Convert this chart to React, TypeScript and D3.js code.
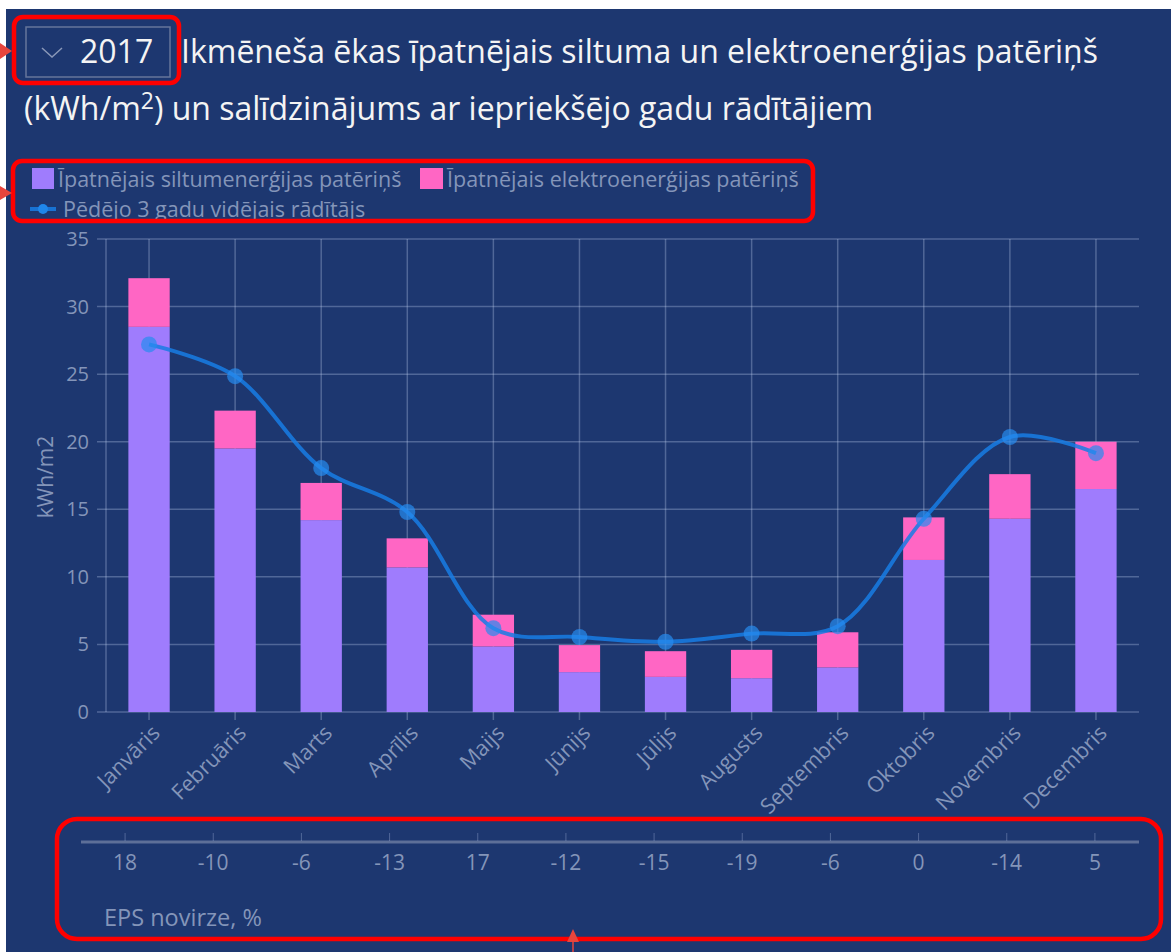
import { useRef, useEffect } from 'react';
import * as d3 from 'd3';

// chart values
const months = ['Janvāris', 'Februāris', 'Marts', 'Aprīlis', 'Maijs', 'Jūnijs', 'Jūlijs', 'Augusts', 'Septembris', 'Oktobris', 'Novembris', 'Decembris'];
const heatValues = [28.5, 19.5, 14.2, 10.7, 4.85, 2.95, 2.6, 2.5, 3.3, 11.25, 14.3, 16.5];
const electricityValues = [3.6, 2.8, 2.75, 2.15, 2.35, 2.0, 1.9, 2.1, 2.6, 3.15, 3.3, 3.5];
const averageValues = [27.2, 24.85, 18.05, 14.8, 6.2, 5.55, 5.2, 5.8, 6.35, 14.3, 20.35, 19.15];
const epsDeviation = ['18', '-10', '-6', '-13', '17', '-12', '-15', '-19', '-6', '0', '-14', '5'];
const yTickValues = [0, 5, 10, 15, 20, 25, 30, 35];

const legendLabels = ['Īpatnējais siltumenerģijas patēriņš', 'Īpatnējais elektroenerģijas patēriņš', 'Pēdējo 3 gadu vidējais rādītājs'];

const W = 1171;
const H = 952;
const BG = '#1d3770';
const GRID = 'rgba(190,205,235,0.32)';
const TXT = '#8495b9';
const HEAT = '#9f7cfd';
const ELEC = '#ff66c4';
const LINE = 'rgba(24,124,228,0.85)';
const FONT = '"Open Sans", sans-serif';

const Chart = () => {
  const ref = useRef(null);

  useEffect(() => {
    const svg = d3.select(ref.current);
    svg.selectAll('*').remove();

    svg.append('rect').attr('x', 6).attr('y', 9).attr('width', W - 6).attr('height', H - 9).attr('fill', BG);

    // title
    const sel = svg.append('g');
    sel.append('rect').attr('x', 26).attr('y', 27).attr('width', 144).attr('height', 50)
      .attr('fill', 'none').attr('stroke', '#66769a').attr('stroke-width', 1.5);
    sel.append('path').attr('d', 'M42,48 L52,57 L62,48').attr('fill', 'none').attr('stroke', '#8a98b8').attr('stroke-width', 1.5);
    sel.append('text').attr('x', 80).attr('y', 63).attr('fill', '#f4f4f4').attr('font-size', 32).attr('font-family', FONT).text('2017');
    svg.append('text').attr('x', 181).attr('y', 63).attr('fill', '#f4f4f4').attr('font-size', 32).attr('font-family', FONT)
      .text('Ikmēneša ēkas īpatnējais siltuma un elektroenerģijas patēriņš');
    const t2 = svg.append('text').attr('x', 24).attr('y', 120).attr('fill', '#f4f4f4').attr('font-size', 32).attr('font-family', FONT);
    t2.append('tspan').text('(kWh/m');
    t2.append('tspan').attr('font-size', 23).attr('dy', -11).text('2');
    t2.append('tspan').attr('dy', 11).text(') un salīdzinājums ar iepriekšējo gadu rādītājiem');

    // legend
    const lg = svg.append('g').attr('font-family', FONT).attr('font-size', 21.5).attr('fill', TXT);
    lg.append('rect').attr('x', 32).attr('y', 168).attr('width', 22).attr('height', 21).attr('fill', HEAT);
    lg.append('text').attr('x', 58).attr('y', 179).attr('dy', '0.35em').text(legendLabels[0]);
    lg.append('rect').attr('x', 420).attr('y', 168).attr('width', 23).attr('height', 21).attr('fill', ELEC);
    lg.append('text').attr('x', 447).attr('y', 179).attr('dy', '0.35em').text(legendLabels[1]);
    lg.append('line').attr('x1', 30).attr('x2', 56).attr('y1', 209).attr('y2', 209).attr('stroke', LINE).attr('stroke-width', 4);
    lg.append('circle').attr('cx', 43).attr('cy', 209).attr('r', 5).attr('fill', '#1f86ea');
    lg.append('text').attr('x', 63).attr('y', 209).attr('dy', '0.35em').text(legendLabels[2]);

    // scales
    const x = d3.scaleBand().domain(months).range([106, 1139]).paddingInner(0.52).paddingOuter(0.26);
    const cx = (m) => x(m) + x.bandwidth() / 2;
    const y = d3.scaleLinear().domain([0, 35]).range([712, 239]);

    // grid
    const grid = svg.append('g').attr('stroke', GRID).attr('stroke-width', 1.5);
    yTickValues.forEach((v) => {
      grid.append('line').attr('x1', 97).attr('x2', 1139).attr('y1', y(v)).attr('y2', y(v));
    });
    months.forEach((m) => {
      grid.append('line').attr('x1', cx(m)).attr('x2', cx(m)).attr('y1', 239).attr('y2', 720);
    });
    grid.append('line').attr('x1', 106).attr('x2', 106).attr('y1', 239).attr('y2', 712);

    svg.append('g').attr('font-family', FONT).attr('font-size', 20).attr('fill', TXT).attr('text-anchor', 'end')
      .selectAll('text').data(yTickValues).join('text')
      .attr('x', 89).attr('y', (d) => y(d)).attr('dy', '0.35em').text((d) => d);

    svg.append('text').attr('transform', 'translate(46,477) rotate(-90)').attr('text-anchor', 'middle')
      .attr('dy', '0.35em').attr('font-family', FONT).attr('font-size', 21).attr('fill', TXT).text('kWh/m2');

    svg.append('g').attr('font-family', FONT).attr('font-size', 21.5).attr('fill', TXT).attr('text-anchor', 'end')
      .selectAll('text').data(months).join('text')
      .attr('transform', (d) => `translate(${cx(d) + 7},${729}) rotate(-45)`)
      .attr('dy', '0.35em').text((d) => d);

    // bars
    const bw = x.bandwidth();
    svg.append('g').selectAll('rect').data(months).join('rect')
      .attr('x', (d) => x(d)).attr('width', bw)
      .attr('y', (d, i) => y(heatValues[i])).attr('height', (d, i) => y(0) - y(heatValues[i]))
      .attr('fill', HEAT);
    svg.append('g').selectAll('rect').data(months).join('rect')
      .attr('x', (d) => x(d)).attr('width', bw)
      .attr('y', (d, i) => y(heatValues[i] + electricityValues[i]))
      .attr('height', (d, i) => y(heatValues[i]) - y(heatValues[i] + electricityValues[i]))
      .attr('fill', ELEC);

    // average line
    const line = d3.line().x((d, i) => cx(months[i])).y((d) => y(d)).curve(d3.curveCatmullRom.alpha(0.5));
    svg.append('path').attr('d', line(averageValues)).attr('fill', 'none').attr('stroke', LINE).attr('stroke-width', 4);
    svg.append('g').selectAll('circle').data(averageValues).join('circle')
      .attr('cx', (d, i) => cx(months[i])).attr('cy', (d) => y(d)).attr('r', 8)
      .attr('fill', 'rgba(38,140,240,0.7)');

    // EPS deviation row
    const tx = d3.scaleBand().domain(months).range([81, 1139]);
    const tcx = (m) => tx(m) + tx.bandwidth() / 2;
    svg.append('line').attr('x1', 81).attr('x2', 1139).attr('y1', 842).attr('y2', 842)
      .attr('stroke', '#5d6f98').attr('stroke-width', 3);
    svg.append('g').attr('stroke', GRID).selectAll('line').data(months).join('line')
      .attr('x1', tcx).attr('x2', tcx).attr('y1', 833).attr('y2', 841);
    svg.append('g').attr('font-family', FONT).attr('font-size', 21).attr('fill', TXT).attr('text-anchor', 'middle')
      .selectAll('text').data(epsDeviation).join('text')
      .attr('x', (d, i) => tcx(months[i])).attr('y', 863).attr('dy', '0.35em').text((d) => d);
    svg.append('text').attr('x', 104).attr('y', 918).attr('dy', '0.35em').attr('font-family', FONT)
      .attr('font-size', 23.5).attr('fill', TXT).text('EPS novirze, %');

    // red annotation marks
    const ann = svg.append('g').attr('fill', 'none').attr('stroke', '#ff0000').attr('stroke-width', 4.5);
    ann.append('rect').attr('x', 14).attr('y', 17).attr('width', 165).attr('height', 66).attr('rx', 9);
    ann.append('rect').attr('x', 13).attr('y', 161).attr('width', 800).attr('height', 60).attr('rx', 9);
    ann.append('rect').attr('x', 57).attr('y', 819).attr('width', 1104).attr('height', 120).attr('rx', 20);
    const arrows = svg.append('g').attr('fill', '#e8453c');
    arrows.append('path').attr('d', 'M0,43 L12,51 L0,59 Z');
    arrows.append('path').attr('d', 'M0,186 L12,193 L0,200 Z');
    arrows.append('path').attr('d', 'M567,942 L573,929 L579,942 Z');
    svg.append('line').attr('x1', 573).attr('x2', 573).attr('y1', 942).attr('y2', 952).attr('stroke', '#e8453c').attr('stroke-width', 1.5);
  }, []);

  return <svg ref={ref} width={W} height={H} style={{ position: 'absolute', left: 0, top: 0, background: '#fff' }} />;
};

export default function App() {
  return <Chart />;
}
